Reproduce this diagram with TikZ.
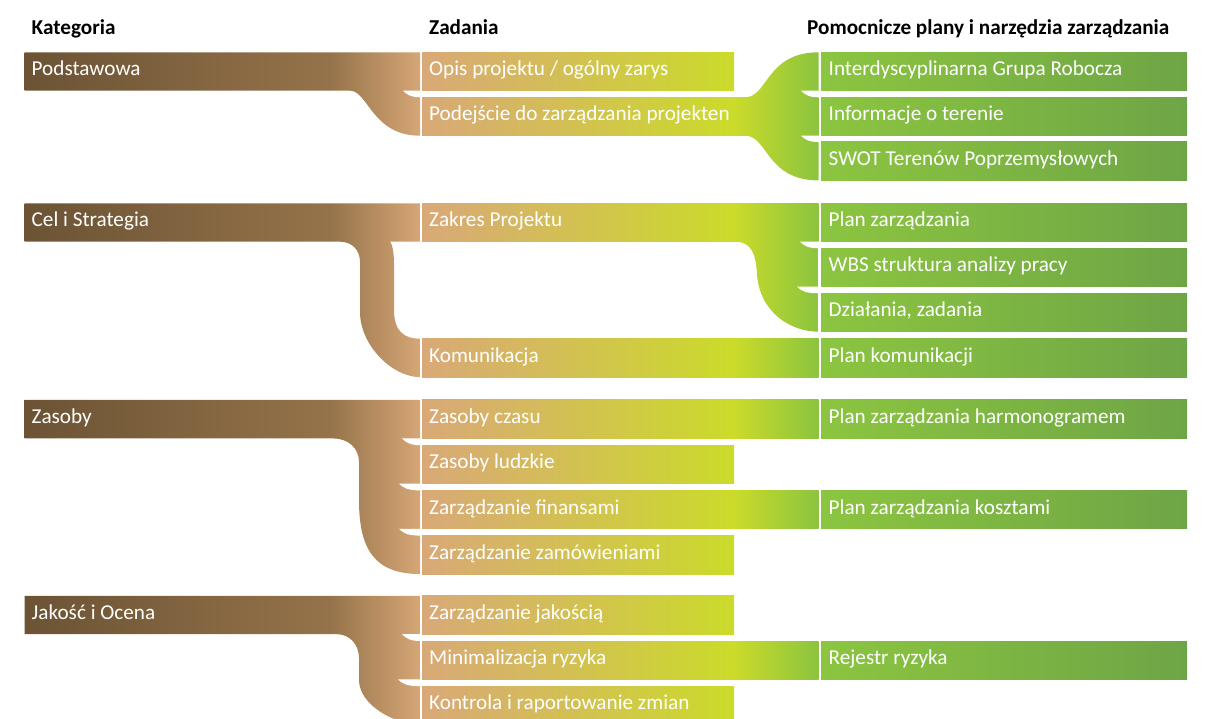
\documentclass[tikz,border=0pt]{standalone}
\usepackage{fontspec}
\setmainfont{Carlito}
\definecolor{catA}{HTML}{6B5334}
\definecolor{catB}{HTML}{95734A}
\definecolor{catC}{HTML}{D6A676}
\definecolor{taskA}{HTML}{D9A878}
\definecolor{taskB}{HTML}{CBDB2A}
\definecolor{taskC}{HTML}{8BC43F}
\definecolor{toolA}{HTML}{8CC540}
\definecolor{toolB}{HTML}{6EA546}
\pgfdeclarehorizontalshading{catshade}{100bp}{color(0bp)=(catA); color(25bp)=(catA); color(63.6bp)=(catB); color(75bp)=(catC); color(100bp)=(catC)}
\pgfdeclarehorizontalshading{longshade}{100bp}{color(0bp)=(taskA); color(25bp)=(taskA); color(64.26bp)=(taskB); color(75bp)=(taskC); color(100bp)=(taskC)}
\tikzset{
  catfill/.style={shading=catshade},
  shortfill/.style={left color=taskA, right color=taskB},
  longfill/.style={shading=longshade},
  greenfill/.style={left color=taskB, right color=taskC},
  toolfill/.style={left color=toolA, right color=toolB},
  notchfill/.style={fill=white},
  lbl/.style={anchor=base west, text=white, font=\fontsize{21.2}{25}\selectfont, inner sep=0pt},
  hdr/.style={anchor=base west, text=black, font=\bfseries\fontsize{21.2}{25}\selectfont, inner sep=0pt},
}
\newcommand{\taskshort}[1]{\shade[shortfill] (422,#1) rectangle (734,#1+38.4);}
\newcommand{\tasklong}[1]{\shade[longfill] (422,#1) rectangle (818.7,#1+38.4);}
\newcommand{\toolrow}[1]{\shade[toolfill] (821,#1) rectangle (1187,#1+38.4);}
% notch: #1 x start, #2 row bottom, #3 next row top, #4 x end
\newcommand{\notchat}[4]{\fill[notchfill] (#4,#2) -- (#1,#2) .. controls (#1+4,#2+4) and (#1+8,#3) .. (#4,#3) -- cycle;}
\begin{document}
\begin{tikzpicture}[x=1pt,y=-1pt]
\useasboundingbox (0,0) rectangle (1227,719);
\clip (0,0) rectangle (1227,719);

% headers
\node[hdr] (h1) at (31.5,34.3) {Kategoria};
\node[hdr] (h2) at (429,34.3) {Zadania};
\node[hdr] (h3) at (807,34.3) {Pomocnicze plany i narzędzia zarządzania};

% ---------- Section 1 ----------
\shade[catfill] (24.5,52.3) -- (420,52.3) -- (420,135.7) .. controls (372,135.7) and (368,90.7) .. (350,90.7) -- (24.5,90.7) -- cycle;
\notchat{403}{90.7}{97.3}{420.3}
\taskshort{52.3}
\tasklong{97.3}
\shade[greenfill] (733.5,97.3) -- (745,97.3) .. controls (768,97.3) and (766,52.3) .. (818.7,52.3) -- (818.7,180.4) .. controls (766,180.4) and (768,135.7) .. (745,135.7) -- (733.5,135.7) -- cycle;
\notchat{801}{90.7}{97.3}{819}
\notchat{801}{135.7}{142}{819}
\toolrow{52.3}
\toolrow{97.3}
\toolrow{142}
\node[lbl] (c1) at (31.5,76) {Podstawowa};
\node[lbl] (t11) at (429,76) {Opis projektu / ogólny zarys};
\node[lbl] (t12) at (429,121) {Podejście do zarządzania projekten};
\node[lbl] (p11) at (828.5,76) {Interdyscyplinarna Grupa Robocza};
\node[lbl] (p12) at (828.5,121) {Informacje o terenie};
\node[lbl] (p13) at (828.5,165.7) {SWOT Terenów Poprzemysłowych};

% ---------- Section 2 ----------
\shade[catfill] (24.5,203.3) -- (420,203.3) -- (420,241.7) -- (390,241.7) .. controls (393,245) and (394,255) .. (394,265) -- (394,310) .. controls (394,332) and (405,338.7) .. (420,338.7) -- (420,377.1) .. controls (392,377.1) and (360,345) .. (360,312) -- (360,262) .. controls (360,250) and (352,241.7) .. (340,241.7) -- (24.5,241.7) -- cycle;
\tasklong{203.3}
\tasklong{338.7}
\shade[greenfill] (733.5,203.3) -- (818.7,203.3) -- (818.7,331.7) .. controls (790,331.7) and (760,312) .. (757,275) .. controls (756,255) and (752,241.7) .. (735,241.7) -- (733.5,241.7) -- cycle;
\notchat{800}{241.7}{248.3}{819}
\notchat{797}{286.7}{293.3}{819}
\toolrow{203.3}
\toolrow{248.3}
\toolrow{293.3}
\toolrow{338.7}
\node[lbl] (c2) at (31.5,227) {Cel i Strategia};
\node[lbl] (t21) at (429,227) {Zakres Projektu};
\node[lbl] (t24) at (429,362.4) {Komunikacja};
\node[lbl] (p21) at (828.5,227) {Plan zarządzania};
\node[lbl] (p22) at (828.5,272) {WBS struktura analizy pracy};
\node[lbl] (p23) at (828.5,317) {Działania, zadania};
\node[lbl] (p24) at (828.5,362.4) {Plan komunikacji};

% ---------- Section 3 ----------
\shade[catfill] (24.5,400) -- (420,400) -- (420,574) .. controls (375,574) and (359,550) .. (359,500) -- (359,462) .. controls (359,448) and (348,438.4) .. (333,438.4) -- (24.5,438.4) -- cycle;
\notchat{402}{438.4}{445.2}{420.3}
\notchat{399}{483.6}{490.4}{420.3}
\notchat{399}{528.8}{535.6}{420.3}
\tasklong{400}
\taskshort{445.2}
\tasklong{490.4}
\taskshort{535.6}
\toolrow{400}
\toolrow{490.4}
\node[lbl] (c3) at (31.5,423.7) {Zasoby};
\node[lbl] (t31) at (429,423.7) {Zasoby czasu};
\node[lbl] (t32) at (429,468.9) {Zasoby ludzkie};
\node[lbl] (t33) at (429,514.1) {Zarządzanie finansami};
\node[lbl] (t34) at (429,559.3) {Zarządzanie zamówieniami};
\node[lbl] (p31) at (828.5,423.7) {Plan zarządzania harmonogramem};
\node[lbl] (p33) at (828.5,514.1) {Plan zarządzania kosztami};

% ---------- Section 4 ----------
\shade[catfill] (24.5,595.8) -- (420,595.8) -- (420,724.6) .. controls (395,724.6) and (359,705) .. (359,680) -- (359,658) .. controls (359,645) and (350,634.2) .. (337,634.2) -- (24.5,634.2) -- cycle;
\notchat{402}{634.2}{641}{420.3}
\notchat{398}{679.4}{686.2}{420.3}
\taskshort{595.8}
\tasklong{641}
\taskshort{686.2}
\toolrow{641}
\node[lbl] (c4) at (31.5,619.5) {Jakość i Ocena};
\node[lbl] (t41) at (429,619.5) {Zarządzanie jakością};
\node[lbl] (t42) at (429,664.7) {Minimalizacja ryzyka};
\node[lbl] (t43) at (429,709.9) {Kontrola i raportowanie zmian};
\node[lbl] (p42) at (828.5,664.7) {Rejestr ryzyka};
\end{tikzpicture}
\end{document}
